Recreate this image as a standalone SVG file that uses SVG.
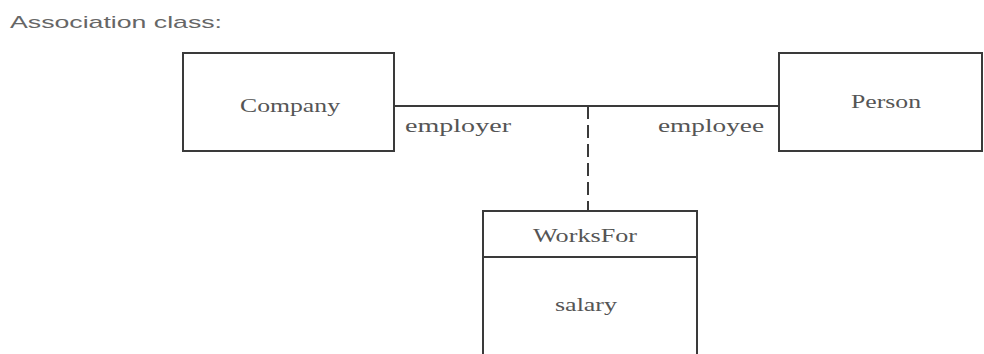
<svg xmlns="http://www.w3.org/2000/svg" width="984" height="354" viewBox="0 0 984 354">
<style>
.box{fill:#fff;stroke:#3a3a3a;stroke-width:2}
.ln{stroke:#3a3a3a;stroke-width:2;fill:none}
.t{font-family:"Liberation Serif","Times New Roman",serif;font-size:18px;fill:#555}
.h{font-family:"Liberation Sans",Arial,sans-serif;font-size:17px;fill:#666}
</style>
<rect width="984" height="354" fill="#fff"/>
<text class="h" x="10" y="28" textLength="212" lengthAdjust="spacingAndGlyphs">Association class:</text>
<g id="connectors">
<line class="ln" x1="394" y1="106" x2="779" y2="106"/>
<line class="ln" x1="588" y1="106" x2="588" y2="211" stroke-dasharray="13,6" stroke-width="2.5"/>
<text class="t" x="405" y="132" textLength="106" lengthAdjust="spacingAndGlyphs">employer</text>
<text class="t" x="658" y="132" textLength="106" lengthAdjust="spacingAndGlyphs">employee</text>
</g>
<g id="company">
<rect class="box" x="183" y="53" width="211" height="98"/>
<text class="t" x="240" y="112" textLength="100" lengthAdjust="spacingAndGlyphs">Company</text>
</g>
<g id="person">
<rect class="box" x="779" y="53" width="203" height="98"/>
<text class="t" x="851" y="108" textLength="70" lengthAdjust="spacingAndGlyphs">Person</text>
</g>
<g id="worksfor">
<path class="ln" d="M483,356 V211 H697 V356"/>
<line class="ln" x1="483" y1="257" x2="697" y2="257"/>
<text class="t" x="533" y="242" textLength="104" lengthAdjust="spacingAndGlyphs">WorksFor</text>
<text class="t" x="555" y="311" textLength="62" lengthAdjust="spacingAndGlyphs">salary</text>
</g>
</svg>
